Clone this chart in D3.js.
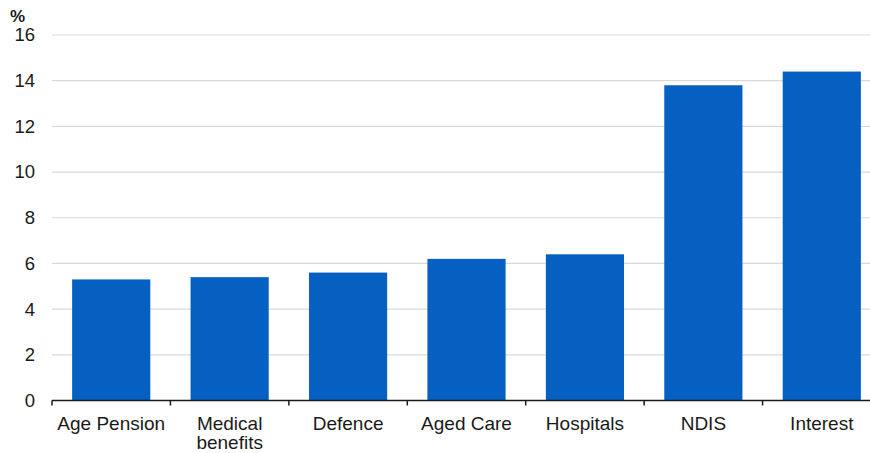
<!DOCTYPE html>
<html><head><meta charset="utf-8">
<script src="https://cdn.jsdelivr.net/npm/d3@7"></script>
<style>
body{margin:0;background:#fff;}
svg{display:block;font-family:"Liberation Sans",Arial,sans-serif;}
</style></head>
<body>
<svg id="chart" width="870" height="453"></svg>
<script>
const categories = ["Age Pension", "Medical benefits", "Defence", "Aged Care", "Hospitals", "NDIS", "Interest"];
const values = [5.3, 5.4, 5.6, 6.2, 6.4, 13.8, 14.4];
const yTicks = [0, 2, 4, 6, 8, 10, 12, 14, 16];
const unitLabel = "%";

(function() {
const svg = d3.select("#chart");
const mLeft = 52, mRight = 881, mTop = 35, mBottom = 400.5;

const x = d3.scaleBand().domain(categories).range([mLeft, mRight]).paddingInner(0.34).paddingOuter(0.17);
const y = d3.scaleLinear().domain([0, 16]).range([mBottom, mTop]);

// gridlines
svg.append("g").selectAll("line").data(yTicks.filter(d => d > 0)).join("line")
  .attr("x1", mLeft).attr("x2", 870)
  .attr("y1", d => y(d)).attr("y2", d => y(d))
  .attr("stroke", "#d9d9d9").attr("stroke-width", 1.2);

// bars
svg.append("g").selectAll("rect").data(values).join("rect")
  .attr("x", (d, i) => x(categories[i]))
  .attr("width", x.bandwidth())
  .attr("y", d => y(d))
  .attr("height", d => y(0) - y(d))
  .attr("fill", "#0560c2");

// y axis labels
const yAxis = d3.axisLeft(y).tickValues(yTicks).tickSize(0).tickPadding(17);
const gy = svg.append("g").attr("transform", `translate(${mLeft},0)`).call(yAxis);
gy.select(".domain").remove();
gy.selectAll("text").attr("font-size", 18.5).attr("fill", "#1a1a1a")
  .attr("font-family", "Liberation Sans, Arial, sans-serif");

svg.append("text").attr("x", 10).attr("y", 22).text(unitLabel)
  .attr("font-size", 17).attr("font-weight", "bold").attr("fill", "#1a1a1a");

// x axis
const step = x.step();
const tickPos = d3.range(categories.length + 1).map(i => mLeft + i * step);
svg.append("line").attr("x1", mLeft).attr("x2", 870).attr("y1", mBottom).attr("y2", mBottom)
  .attr("stroke", "#1a1a1a").attr("stroke-width", 1.5);
svg.append("g").selectAll("line").data(tickPos).join("line")
  .attr("x1", d => d).attr("x2", d => d).attr("y1", mBottom).attr("y2", mBottom + 5)
  .attr("stroke", "#1a1a1a").attr("stroke-width", 1.5);

const labels = svg.append("g").selectAll("text").data(categories).join("text")
  .attr("text-anchor", "middle").attr("font-size", 19).attr("fill", "#1a1a1a")
  .attr("transform", d => `translate(${x(d) + x.bandwidth() / 2},430)`);
labels.each(function(d) {
  const t = d3.select(this);
  const words = d === "Medical benefits" ? ["Medical", "benefits"] : [d];
  words.forEach((w, i) => t.append("tspan").attr("x", 0).attr("dy", i === 0 ? 0 : 18.5).text(w));
});
})();
</script>
</body></html>
